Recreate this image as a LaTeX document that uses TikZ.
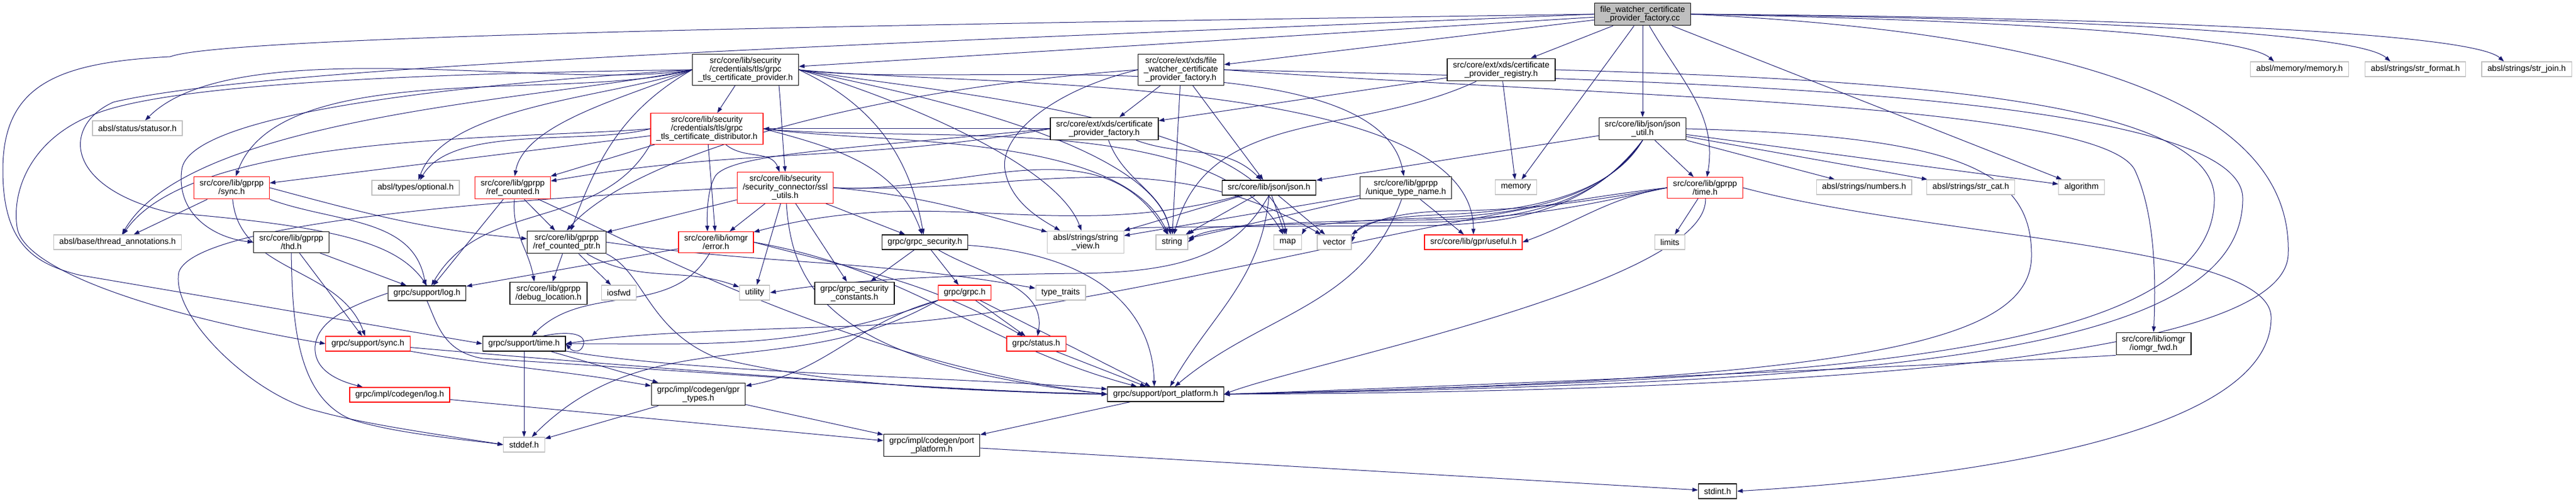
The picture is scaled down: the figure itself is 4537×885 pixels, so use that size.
\documentclass[tikz,border=0pt]{standalone}
\usepackage{fontspec}
\setmainfont{Liberation Sans}
\usetikzlibrary{arrows.meta}
\pgfdeclarelayer{edges}
\pgfsetlayers{edges,main}
\definecolor{edgeblue}{HTML}{191970}
\definecolor{boxgray}{HTML}{BFBFBF}
\tikzset{
  file/.style={draw=black, fill=white, line width=0.12pt, align=center, inner xsep=1pt, inner ysep=0.55pt,
    minimum height=2.6pt, font=\fontsize{1.47pt}{1.5pt}\selectfont},
  redfile/.style={file, draw=red},
  sysfile/.style={file, draw=boxgray},
  mainfile/.style={file, fill=boxgray},
  dep/.style={->, draw=edgeblue, line width=0.1pt},
  >={Triangle[length=1pt,width=0.7pt]},
}
\begin{document}
\begin{tikzpicture}[x=0.1pt,y=0.1pt]
\useasboundingbox (0,0) rectangle (4537,-885);
% first rows
\node[mainfile] (top) at (2893,-25) {file\_watcher\_certificate\\\_provider\_factory.cc};
\node[file] (tlsprov) at (1313,-123) {src/core/lib/security\\/credentials/tls/grpc\\\_tls\_certificate\_provider.h};
\node[file] (fwfact) at (2080,-123) {src/core/ext/xds/file\\\_watcher\_certificate\\\_provider\_factory.h};
\node[file] (registry) at (2644,-123) {src/core/ext/xds/certificate\\\_provider\_registry.h};
\node[sysfile] (memoryh) at (4050,-122) {absl/memory/memory.h};
\node[sysfile] (strformat) at (4254,-122) {absl/strings/str\_format.h};
\node[sysfile] (strjoin) at (4450,-122) {absl/strings/str\_join.h};
\node[sysfile] (statusor) at (242,-226) {absl/status/statusor.h};
\node[redfile] (distrib) at (1245,-227) {src/core/lib/security\\/credentials/tls/grpc\\\_tls\_certificate\_distributor.h};
\node[file] (certfact) at (1945,-227) {src/core/ext/xds/certificate\\\_provider\_factory.h};
\node[file] (jsonutil) at (2893,-227) {src/core/lib/json/json\\\_util.h};
\node[redfile] (sync) at (408,-331) {src/core/lib/gprpp\\/sync.h};
\node[sysfile] (optional) at (732,-331) {absl/types/optional.h};
\node[redfile] (refcounted) at (903,-331) {src/core/lib/gprpp\\/ref\_counted.h};
\node[redfile] (sslutils) at (1383,-331) {src/core/lib/security\\/security\_connector/ssl\\\_utils.h};
\node[file] (jsonh) at (2235,-331) {src/core/lib/json/json.h};
\node[file] (uniquetn) at (2476,-331) {src/core/lib/gprpp\\/unique\_type\_name.h};
\node[sysfile] (memory) at (2670,-330) {memory};
\node[redfile] (timeh) at (3003,-331) {src/core/lib/gprpp\\/time.h};
\node[sysfile] (numbers) at (3283,-330) {absl/strings/numbers.h};
\node[sysfile] (strcat) at (3471,-330) {absl/strings/str\_cat.h};
\node[sysfile] (algorithm) at (3666,-330) {algorithm};
% middle rows
\node[sysfile] (threadann) at (207,-427) {absl/base/thread\_annotations.h};
\node[file] (thd) at (513,-427) {src/core/lib/gprpp\\/thd.h};
\node[file] (refptr) at (998,-427) {src/core/lib/gprpp\\/ref\_counted\_ptr.h};
\node[redfile] (error) at (1261,-427) {src/core/lib/iomgr\\/error.h};
\node[file] (grpcsec) at (1629,-427) {grpc/grpc\_security.h};
\node[sysfile] (stringview) at (1912,-427) {absl/strings/string\\\_view.h};
\node[sysfile] (string) at (2064,-427) {string};
\node[sysfile] (map) at (2268,-427) {map};
\node[sysfile] (vector) at (2350,-427) {vector};
\node[redfile] (useful) at (2595,-427) {src/core/lib/gpr/useful.h};
\node[sysfile] (limits) at (2941,-427) {limits};
\node[file] (log) at (752,-517) {grpc/support/log.h};
\node[file] (debugloc) at (966,-517) {src/core/lib/gprpp\\/debug\_location.h};
\node[sysfile] (iosfwd) at (1090,-516) {iosfwd};
\node[sysfile] (utility) at (1329,-516) {utility};
\node[file] (secconst) at (1505,-517) {grpc/grpc\_security\\\_constants.h};
\node[redfile] (grpch) at (1699,-516) {grpc/grpc.h};
\node[sysfile] (typetraits) at (1868,-516) {type\_traits};
% bottom rows
\node[redfile] (supsync) at (648,-606) {grpc/support/sync.h};
\node[file] (suptime) at (923,-606) {grpc/support/time.h};
\node[redfile] (status) at (1825,-606) {grpc/status.h};
\node[file] (iomgrfwd) at (3793,-606) {src/core/lib/iomgr\\/iomgr\_fwd.h};
\node[redfile] (codegenlog) at (704,-696) {grpc/impl/codegen/log.h};
\node[file] (gprtypes) at (1230,-695) {grpc/impl/codegen/gpr\\\_types.h};
\node[file] (supportpp) at (2053,-695) {grpc/support/port\_platform.h};
\node[sysfile] (stddef) at (923,-784) {stddef.h};
\node[file] (cgportplat) at (1641,-785) {grpc/impl/codegen/port\\\_platform.h};
\node[file] (stdint) at (3025,-866) {stdint.h};

\begin{pgfonlayer}{edges}
% from the .cc file
\draw[dep] (top) -- (tlsprov);
\draw[dep] (top) -- (fwfact);
\draw[dep] (top) -- (registry);
\draw[dep] (top) -- (jsonutil);
\draw[dep] (top) -- (memory);
\draw[dep] (top) -- (algorithm);
\draw[dep] (top) to[out=-60,in=80] (timeh);
\draw[dep] (top.east) .. controls (3500,-35) and (3950,-60) .. ([xshift=-4.5pt]memoryh.north);
\draw[dep] (top.east) .. controls (3600,-32) and (4150,-55) .. ([xshift=-4.4pt]strformat.north);
\draw[dep] (top.east) .. controls (3700,-30) and (4350,-55) .. ([xshift=-4pt]strjoin.north);
\draw[dep] (top.east) .. controls (3700,-60) and (4040,-200) .. (4030,-450) .. controls (4020,-620) and (3300,-690) .. (supportpp.east);
\draw[dep] (top.west) .. controls (1800,-40) and (400,-60) .. (300,-100) .. controls (100,-110) and (5,-150) .. (5,-300) .. controls (5,-430) and (60,-465) .. (140,-485) -- (suptime.west);
\draw[dep] (top.west) .. controls (1700,-72) and (500,-110) .. (200,-180) .. controls (110,-220) and (110,-330) .. (300,-375) .. controls (600,-400) and (700,-430) .. (log.north);
% security headers
\draw[dep] (tlsprov.west) to[out=190,in=45,looseness=0.6] (statusor);
\draw[dep] (tlsprov) -- (distrib);
\draw[dep] ([xshift=-3.5pt]tlsprov.south east) to[out=-85,in=95] (sslutils.north);
\draw[dep] (tlsprov.west) to[out=195,in=70,looseness=0.7] (sync);
\draw[dep] (tlsprov.west) to[out=205,in=80,looseness=0.7] (refcounted);
\draw[dep] (tlsprov.west) to[out=192,in=60,looseness=0.6] (threadann);
\draw[dep] (tlsprov.west) .. controls (800,-150) and (330,-200) .. (320,-300) .. controls (310,-380) and (380,-420) .. (thd.west);
\draw[dep] (tlsprov.west) to[out=200,in=70,looseness=0.7] (optional);
\draw[dep] (tlsprov.west) to[out=210,in=70] (refptr);
\draw[dep] (tlsprov.east) to[out=-25,in=100] (grpcsec);
\draw[dep] (tlsprov.east) to[out=-8,in=100,looseness=0.6] (uniquetn);
\draw[dep] (tlsprov.east) to[out=-12,in=100,looseness=0.6] (string);
\draw[dep] (tlsprov.east) to[out=-10,in=100,looseness=0.6] (map);
\draw[dep] (tlsprov.east) to[out=-15,in=110,looseness=0.6] (stringview);
\draw[dep] (tlsprov.east) to[out=-6,in=90,looseness=0.6] (useful.north);
\draw[dep] (tlsprov.west) .. controls (700,-130) and (300,-150) .. (170,-200) .. controls (60,-240) and (20,-330) .. (30,-400) .. controls (40,-480) and (300,-560) .. (supsync.west);
\draw[dep] (distrib) -- (sync);
\draw[dep] (distrib.west) to[out=195,in=60,looseness=0.7] (optional);
\draw[dep] (distrib) -- (refcounted);
\draw[dep] (distrib.west) to[out=185,in=55,looseness=0.6] (threadann);
\draw[dep] (distrib) to[out=-40,in=110] (sslutils);
\draw[dep] (distrib) -- (error);
\draw[dep] (distrib.east) to[out=-15,in=110] (grpcsec);
\draw[dep] (distrib.east) to[out=-8,in=115,looseness=0.7] (string);
\draw[dep] (distrib.east) to[out=-6,in=120,looseness=0.7] (map);
\draw[dep] (distrib.south west) to[out=-120,in=60] (log);
\draw[dep] (sslutils) -- (error);
\draw[dep] (sslutils) -- (refptr);
\draw[dep] (sslutils) -- (utility);
\draw[dep] (sslutils) -- (secconst);
\draw[dep] (sslutils) -- (grpcsec);
\draw[dep] (sslutils) .. controls (1395,-500) and (1450,-640) .. (supportpp.west);
\draw[dep] (sslutils.east) to[out=-5,in=165] (stringview);
\draw[dep] (sslutils.east) to[out=-3,in=120] (string);
\draw[dep] (sslutils.east) to[out=-2,in=150] (vector);
\draw[dep] (sslutils.west) .. controls (800,-355) and (340,-400) .. (315,-480) .. controls (300,-560) and (450,-700) .. (560,-725) .. controls (650,-750) and (800,-770) .. (stddef.west);
% gprpp headers
\draw[dep] (refcounted) -- (log);
\draw[dep] (refcounted) -- (refptr);
\draw[dep] ([xshift=0.3pt]refcounted.south) to[out=-95,in=100] ([xshift=-2.5pt]debugloc.north);
\draw[dep] (refcounted) .. controls (1100,-420) and (1500,-640) .. (supportpp.west);
\draw[dep] (sync) -- (threadann);
\draw[dep] (sync.south east) to[out=-20,in=100] (log);
\draw[dep] (sync) to[out=-85,in=110] (supsync);
\draw[dep] (sync.east) to[out=-15,in=175] (refptr);
\draw[dep] (thd) -- (log);
\draw[dep] (thd) -- (supsync);
\draw[dep] (thd.south) .. controls (515,-560) and (520,-700) .. (620,-740) .. controls (700,-765) and (820,-775) .. (stddef.west);
\draw[dep] (refptr) -- (debugloc);
\draw[dep] (refptr) -- (iosfwd);
\draw[dep] (refptr) to[out=-30,in=160] (utility);
\draw[dep] (refptr.east) to[out=-8,in=170] (typetraits);
\draw[dep] (refptr.south east) .. controls (1135,-480) and (1140,-580) .. (1260,-630) .. controls (1500,-690) and (1800,-690) .. (supportpp.west);
\draw[dep] (error) -- (log);
\draw[dep] (error) to[out=-120,in=45] (suptime);
\draw[dep] (error.east) to[out=-15,in=150] (status);
\draw[dep] (error.east) to[out=-10,in=165] (supportpp);
% grpc headers
\draw[dep] (grpcsec) -- (secconst);
\draw[dep] (grpcsec) -- (grpch);
\draw[dep] (grpcsec) to[out=-30,in=80] (status);
\draw[dep] (grpcsec) .. controls (1950,-450) and (2030,-560) .. ([xshift=-2pt]supportpp.north);
\draw[dep] (grpch) -- (status);
\draw[dep] (grpch) -- (supportpp);
\draw[dep] (grpch.south west) to[out=200,in=0] (suptime);
\draw[dep] (grpch.south west) to[out=195,in=10] (gprtypes);
\draw[dep] (grpch.south west) to[out=210,in=45] (stddef);
\draw[dep] (log.west) .. controls (600,-545) and (560,-570) .. (555,-610) .. controls (552,-650) and (590,-670) .. ([xshift=-6.5pt]codegenlog.north);
\draw[dep] (log.south) .. controls (770,-570) and (780,-620) .. (850,-632) .. controls (1300,-660) and (1700,-690) .. (supportpp.west);
\draw[dep] (codegenlog) -- (cgportplat);
\draw[dep] (supsync) to[out=-10,in=170] (gprtypes);
\draw[dep] (supsync) to[out=-5,in=180,looseness=0.5] (supportpp);
\draw[dep] (suptime) -- (stddef);
\draw[dep] (suptime) -- (gprtypes);
\draw[dep] (suptime) to[out=-10,in=175,looseness=0.6] (supportpp);
\draw[dep] ([xshift=-4pt]suptime.north east) .. controls (1000,-583) and (1030,-588) .. (1028,-605) .. controls (1026,-622) and (1010,-622) .. (suptime.east);
\draw[dep] (gprtypes) -- (stddef);
\draw[dep] (gprtypes) -- (cgportplat);
\draw[dep] (status) -- (supportpp);
\draw[dep] (supportpp) -- (cgportplat);
\draw[dep] (cgportplat) -- (stdint);
% time, json and xds headers
\draw[dep] (timeh) -- (limits);
\draw[dep] (timeh.east) .. controls (3400,-420) and (4000,-430) .. (4000,-560) .. controls (4000,-760) and (3500,-840) .. (stdint.east);
\draw[dep] (timeh.west) .. controls (2500,-380) and (1900,-560) .. (1500,-575) .. controls (1200,-585) and (1100,-590) .. (suptime.east);
\draw[dep] (timeh.west) to[out=190,in=20] (useful.east);
\draw[dep] (timeh.west) .. controls (2800,-355) and (2700,-370) .. (2550,-372) .. controls (2440,-374) and (2400,-400) .. (vector.north east);
\draw[dep] (timeh.west) .. controls (2800,-360) and (2700,-385) .. (2500,-388) .. controls (2250,-390) and (2120,-400) .. (string.east);
\draw[dep] (timeh) .. controls (3010,-500) and (2300,-640) .. (supportpp.east);
\draw[dep] (jsonutil) -- (timeh);
\draw[dep] (jsonutil) -- (numbers);
\draw[dep] (jsonutil) -- (strcat);
\draw[dep] (jsonutil) -- (algorithm);
\draw[dep] (jsonutil) -- (jsonh);
\draw[dep] (jsonutil.south) .. controls (2840,-340) and (2700,-372) .. (2550,-378) .. controls (2420,-383) and (2390,-395) .. (vector.east);
\draw[dep] (jsonutil.south) .. controls (2830,-345) and (2700,-380) .. (2500,-385) .. controls (2330,-390) and (2300,-400) .. (map.north east);
\draw[dep] (jsonutil.south) .. controls (2820,-350) and (2700,-390) .. (2500,-392) .. controls (2200,-395) and (2110,-400) .. (string.north east);
\draw[dep] (jsonutil.south) .. controls (2810,-355) and (2700,-396) .. (2500,-398) .. controls (2100,-400) and (2000,-400) .. (stringview.north east);
\draw[dep] (jsonutil.east) .. controls (3450,-240) and (3578,-300) .. (3578,-450) .. controls (3578,-600) and (3300,-670) .. (supportpp.east);
\draw[dep] (jsonh) -- (stringview);
\draw[dep] (jsonh) -- (string);
\draw[dep] (jsonh) -- (map);
\draw[dep] (jsonh) -- (vector);
\draw[dep] (jsonh) to[out=195,in=15] (error);
\draw[dep] (jsonh.south) .. controls (2180,-440) and (2100,-480) .. (1900,-482) .. controls (1600,-485) and (1450,-500) .. (utility.east);
\draw[dep] (jsonh.south) to[out=-95,in=60] (supportpp);
\draw[dep] (uniquetn) -- (stringview);
\draw[dep] (uniquetn) -- (string);
\draw[dep] (uniquetn) -- (useful);
\draw[dep] (uniquetn) to[out=-110,in=40] (supportpp);
\draw[dep] (certfact) -- (distrib);
\draw[dep] (certfact) to[out=-20,in=135] (jsonh);
\draw[dep] (certfact.west) to[out=190,in=10] (refcounted);
\draw[dep] (certfact.west) .. controls (1500,-262) and (1290,-270) .. (1260,-310) .. controls (1245,-335) and (1245,-380) .. ([xshift=-1.5pt]error.north);
\draw[dep] (certfact) to[out=-70,in=100] (string);
\draw[dep] (registry) -- (certfact);
\draw[dep] (registry) to[out=205,in=75] (string);
\draw[dep] (registry) -- (memory);
\draw[dep] (registry.east) .. controls (3300,-140) and (3900,-170) .. (3900,-350) .. controls (3900,-630) and (3200,-670) .. (supportpp.east);
\draw[dep] (fwfact) -- (certfact);
\draw[dep] (fwfact) -- (string);
\draw[dep] (fwfact) -- (jsonh);
\draw[dep] (fwfact.west) .. controls (1850,-160) and (1760,-240) .. (1770,-300) .. controls (1780,-360) and (1840,-390) .. ([xshift=-4.5pt]stringview.north);
\draw[dep] (fwfact.west) .. controls (1500,-160) and (1110,-280) .. (refptr.north);
\draw[dep] (fwfact.east) .. controls (2800,-170) and (3700,-180) .. (3760,-300) .. controls (3797,-380) and (3797,-500) .. (iomgrfwd.north);
\draw[dep] (fwfact.east) .. controls (2900,-140) and (3950,-160) .. (3950,-350) .. controls (3950,-630) and (3300,-675) .. (supportpp.east);
\draw[dep] (iomgrfwd.south west) .. controls (3500,-640) and (2600,-680) .. (supportpp.east);
\end{pgfonlayer}
\end{tikzpicture}
\end{document}
